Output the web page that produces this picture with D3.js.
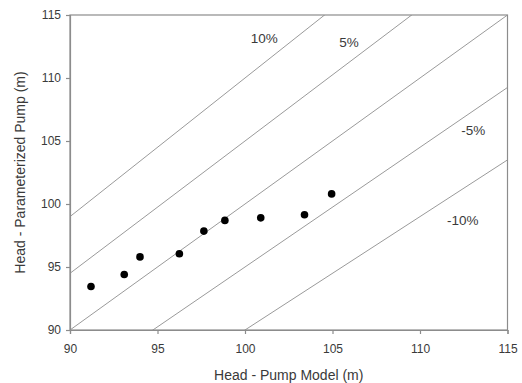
<!DOCTYPE html>
<html>
<head>
<meta charset="utf-8">
<script src="https://cdn.jsdelivr.net/npm/d3@7"></script>
<style>
  html, body { margin: 0; padding: 0; background: #fff; }
  svg { display: block; font-family: "Liberation Sans", Arial, sans-serif; }
</style>
</head>
<body>
<svg id="chart" width="522" height="383"></svg>
<script>
// Measured heads: pump model vs. parameterized pump (m)
const modelHead = [91.2, 93.1, 94.0, 96.25, 97.65, 98.85, 100.9, 103.4, 104.95];
const paramHead = [93.45, 94.4, 95.8, 96.05, 97.85, 98.7, 98.9, 99.15, 100.8];

// Deviation bands around the 1:1 line
const deviations = [0.10, 0.05, 0, -0.05, -0.10];
const deviationLabels = ["10%", "5%", "-5%", "-10%"];
const labelX = [101.1, 105.95, 113.05, 112.45];
const labelY = [112.8, 112.45, 105.45, 98.3];

const ticks = [90, 95, 100, 105, 110, 115];
const domain = [90, 115];

const svg = d3.select("#chart");
const plot = { left: 70, right: 507.5, top: 15, bottom: 330 };

const x = d3.scaleLinear().domain(domain).range([plot.left, plot.right]);
const y = d3.scaleLinear().domain(domain).range([plot.bottom, plot.top]);

const axisColor = "#8c8c8c";
const textColor = "#3a3a3a";

svg.append("defs").append("clipPath").attr("id", "plot-clip")
  .append("rect")
  .attr("x", plot.left).attr("y", plot.top)
  .attr("width", plot.right - plot.left).attr("height", plot.bottom - plot.top);

// Deviation lines y = (1 + d) * x
const line = d3.line().x(d => x(d[0])).y(d => y(d[1]));
svg.append("g").attr("clip-path", "url(#plot-clip)")
  .selectAll("path")
  .data(deviations)
  .join("path")
  .attr("d", d => line([[domain[0] - 20, (domain[0] - 20) * (1 + d)], [domain[1] + 20, (domain[1] + 20) * (1 + d)]]))
  .attr("fill", "none")
  .attr("stroke", "#9a9a9a")
  .attr("stroke-width", 1);

// Frame
svg.append("rect")
  .attr("x", plot.left).attr("y", plot.top)
  .attr("width", plot.right - plot.left).attr("height", plot.bottom - plot.top)
  .attr("fill", "none")
  .attr("stroke", axisColor)
  .attr("stroke-width", 1.2);

// Axes
const xAxis = svg.append("g")
  .attr("transform", `translate(0,${plot.bottom})`)
  .call(d3.axisBottom(x).tickValues(ticks).tickSize(4).tickPadding(10));
const yAxis = svg.append("g")
  .attr("transform", `translate(${plot.left},0)`)
  .call(d3.axisLeft(y).tickValues(ticks).tickSize(4).tickPadding(5));

[xAxis, yAxis].forEach(g => {
  g.select(".domain").attr("stroke", axisColor).attr("stroke-width", 1.2);
  g.selectAll(".tick line").attr("stroke", axisColor).attr("stroke-width", 1.2);
  g.selectAll(".tick text")
    .attr("fill", textColor)
    .style("font-size", "12px")
    .style("font-family", "'Liberation Sans', Arial, sans-serif");
});

// Deviation labels
svg.append("g").selectAll("text")
  .data(deviationLabels)
  .join("text")
  .attr("x", (d, i) => x(labelX[i]))
  .attr("y", (d, i) => y(labelY[i]))
  .attr("text-anchor", "middle")
  .attr("fill", textColor)
  .style("font-size", "13.5px")
  .text(d => d);

// Data points
svg.append("g").selectAll("circle")
  .data(modelHead.map((m, i) => [m, paramHead[i]]))
  .join("circle")
  .attr("cx", d => x(d[0]))
  .attr("cy", d => y(d[1]))
  .attr("r", 3.8)
  .attr("fill", "#000");

// Axis titles
svg.append("text")
  .attr("x", (plot.left + plot.right) / 2)
  .attr("y", 380)
  .attr("text-anchor", "middle")
  .attr("fill", textColor)
  .style("font-size", "14px")
  .text("Head - Pump Model (m)");

svg.append("text")
  .attr("transform", `translate(25,${(plot.top + plot.bottom) / 2}) rotate(-90)`)
  .attr("text-anchor", "middle")
  .attr("fill", textColor)
  .style("font-size", "14px")
  .text("Head - Parameterized Pump (m)");
</script>
</body>
</html>
